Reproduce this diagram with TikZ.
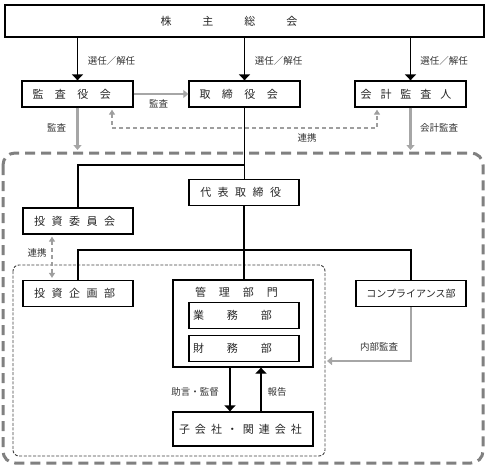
\documentclass[tikz,border=0pt]{standalone}
\usepackage{fontspec}
\setmainfont{Noto Sans CJK JP}
\usetikzlibrary{arrows.meta}
\makeatletter
\newcommand{\spread}[2]{\@tfor\sp@ch:=#2\do{\sp@ch\hspace{#1}}\hspace{-#1}}
\makeatother
\newcommand{\post}[5]{\node[post,minimum width=#4pt] (#1) at (#2,#3) {#5};}
\newcommand{\note}[4]{\node[note] (#1) at (#2,#3) {#4};}

\begin{document}
\begin{tikzpicture}[x=1pt,y=-1pt,
    post/.style={draw,line width=1.3pt,minimum height=26pt,inner sep=0pt,text=black!85,
                 font=\fontsize{11}{11}\selectfont},
    note/.style={inner sep=0pt,text=black!80,font=\fontsize{9.5}{9.5}\selectfont},
    line/.style={line width=1.3pt},
    down/.style={line,-{Triangle[width=11pt,length=6pt]}},
    audit/.style={black!35,line width=2.6pt,-{Triangle[width=8pt,length=5pt]}},
    tie/.style={black!38,line width=1.2pt,dash pattern=on 4pt off 3pt,
                {Triangle[width=6pt,length=5pt]}-{Triangle[width=6pt,length=5pt]}}]
    \useasboundingbox (0,0) rectangle (488,472);
    \draw[black!50,line width=3pt,dash pattern=on 10pt off 6pt,rounded corners=12pt] (3,153) rectangle (483,463);
    \draw[black!75,line width=0.9pt,dash pattern=on 3pt off 1.6pt,rounded corners=6pt] (13,265) rectangle (325,456);

    \node[post,minimum width=479pt,minimum height=32pt] (meeting) at (244.5,21) {\spread{31pt}{株主総会}};
    \post{kansa}{77.5}{94}{111}{\spread{11.5pt}{監査役会}}
    \post{board}{244.5}{94}{111}{\spread{11.5pt}{取締役会}}
    \post{kaikei}{410.5}{94}{111}{\spread{9pt}{会計監査人}}
    \post{daihyo}{244}{192.5}{110}{\spread{6.5pt}{代表取締役}}
    \post{iinkai}{78}{221}{110}{\spread{6.5pt}{投資委員会}}
    \post{kikaku}{78}{293.5}{110}{\spread{6.5pt}{投資企画部}}
    \post{compliance}{411}{293.5}{110}{\fontsize{10}{10}\selectfont コンプライアンス部}
    \node[post,minimum width=140pt,minimum height=87pt] (kanri) at (243,323.5) {};
    \node[post,draw=none,minimum height=0pt] (kanrititle) at (243,292) {\spread{13pt}{管理部門}};
    \post{gyomu}{244}{315.5}{110}{\spread{23pt}{業務部}}
    \post{zaimu}{244}{348.5}{110}{\spread{23pt}{財務部}}
    \node[post,minimum width=140pt,minimum height=34pt] (kogaisha) at (243,429) {\spread{5pt}{子会社・関連会社}};

    \draw[down] (meeting.south -| kansa) -- (kansa);
    \draw[down] (meeting.south -| board) -- (board);
    \draw[down] (meeting.south -| kaikei) -- (kaikei);
    \note{sel1}{111.5}{61}{選任／解任}
    \note{sel2}{278.5}{61}{選任／解任}
    \note{sel3}{444}{61}{選任／解任}

    \coordinate (kansaend) at (77.5,150);
    \coordinate (kaikeiend) at (410.5,150);
    \draw[audit] (kansa) -- (board);
    \draw[audit] (kansa) -- (kansaend);
    \draw[audit] (kaikei) -- (kaikeiend);
    \note{audit1}{158.5}{104}{監査}
    \note{audit2}{56.5}{128}{監査}
    \note{audit3}{439}{128}{会計監査}

    \coordinate (tieL) at (112,128);
    \coordinate (tieR) at (377,128);
    \draw[tie] ([yshift=-2pt]kansa.south -| tieL) -- (tieL) -- (tieR) -- ([yshift=-2pt]kaikei.south -| tieR);
    \note{tie1}{307}{138}{連携}

    \coordinate (split) at (244.5,165);
    \coordinate (branch) at (244,250);
    \draw[line] (board.south) -- (board.south |- daihyo.north);
    \draw[line] (split) -| (iinkai);
    \draw[line] (daihyo) -- (branch);
    \draw[line] (kikaku) |- (branch) -| (compliance);
    \draw[line] (branch) -- (branch |- kanri.north);

    \coordinate (tieV) at (52,253);
    \draw[tie] ([yshift=-2pt]iinkai.south -| tieV) -- ([yshift=2pt]kikaku.north -| tieV);
    \note{tie2}{37}{253}{連携}

    \coordinate (auditin) at (327,361);
    \draw[audit] (compliance) |- (auditin);
    \note{audit4}{379}{347}{内部監査}

    \draw[down] ([xshift=-13pt]kanri.south) -- ([xshift=-13pt]kogaisha.north);
    \draw[down] ([xshift=18pt]kogaisha.north) -- ([xshift=18pt]kanri.south);
    \note{advice}{195}{392}{助言・監督}
    \note{report}{277}{392}{報告}
\end{tikzpicture}
\end{document}
